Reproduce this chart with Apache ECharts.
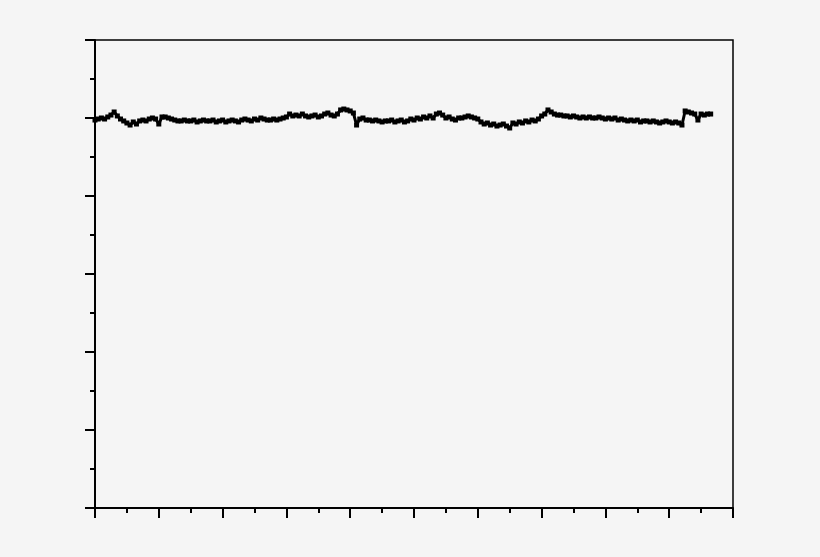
<!DOCTYPE html>
<html>
<head>
<meta charset="utf-8">
<script src="https://cdn.jsdelivr.net/npm/echarts@6/dist/echarts.min.js"></script>
<style>
html,body{margin:0;padding:0;background:#f5f5f5;}
#chart{width:820px;height:557px;}
</style>
</head>
<body>
<div id="chart"></div>
<script>
// sampling grid along x (data axis runs 0..100)
const xStart = 0;
const xStep = 0.5;
// measured series values (y axis runs 0..6)
const seriesValues = [
4.974,4.987,5.000,4.987,5.013,5.038,5.077,5.026,4.987,4.962,
4.936,4.910,4.949,4.923,4.962,4.974,4.962,4.987,5.000,4.987,
4.923,5.013,5.013,5.000,4.987,4.974,4.962,4.962,4.974,4.962,
4.962,4.974,4.949,4.962,4.974,4.962,4.962,4.974,4.949,4.962,
4.974,4.949,4.962,4.974,4.962,4.949,4.974,4.987,4.974,4.962,
4.987,4.974,5.000,4.987,4.974,4.974,4.987,4.974,4.987,5.000,
5.013,5.051,5.026,5.038,5.026,5.051,5.026,5.013,5.026,5.038,
5.013,5.026,5.051,5.064,5.038,5.026,5.051,5.103,5.115,5.103,
5.090,5.064,4.910,4.987,5.000,4.974,4.974,4.962,4.974,4.962,
4.949,4.962,4.962,4.974,4.949,4.962,4.974,4.949,4.962,4.987,
4.974,5.000,4.987,5.013,5.000,5.026,5.000,5.051,5.064,5.038,
5.000,5.013,4.987,4.974,5.000,5.000,5.013,5.026,5.013,5.000,
4.987,4.949,4.923,4.936,4.910,4.923,4.897,4.910,4.923,4.897,
4.872,4.936,4.923,4.949,4.936,4.962,4.949,4.974,4.962,4.987,
5.026,5.051,5.103,5.077,5.051,5.038,5.038,5.026,5.026,5.013,
5.026,5.013,5.000,5.013,5.000,5.013,5.000,5.000,5.013,5.000,
4.987,5.000,4.987,5.000,4.974,4.987,4.974,4.962,4.974,4.962,
4.974,4.949,4.962,4.962,4.949,4.962,4.949,4.936,4.949,4.962,
4.949,4.936,4.949,4.936,4.910,5.090,5.077,5.064,5.051,4.974,
5.051,5.038,5.051,5.051
];
const xAxisRange = [0, 100];
const yAxisRange = [0, 6];

const data = seriesValues.map((v, i) => [xStart + i * xStep, v]);

const chart = echarts.init(document.getElementById('chart'));
const axisCommon = {
  axisLine: { show: true, onZero: false, lineStyle: { color: '#000', width: 2 } },
  axisTick: { show: true, inside: false, length: 10, lineStyle: { color: '#000', width: 2 } },
  minorTick: { show: true, splitNumber: 2, length: 5, lineStyle: { color: '#000', width: 2 } },
  axisLabel: { show: false },
  splitLine: { show: false }
};
chart.setOption({
  backgroundColor: '#f5f5f5',
  animation: false,
  grid: {
    left: 95, right: 87, top: 40, bottom: 49,
    show: true, borderColor: '#000', borderWidth: 1.5, backgroundColor: 'transparent'
  },
  xAxis: Object.assign({
    type: 'value', min: xAxisRange[0], max: xAxisRange[1], interval: 10
  }, axisCommon),
  yAxis: Object.assign({
    type: 'value', min: yAxisRange[0], max: yAxisRange[1], interval: 1
  }, axisCommon),
  series: [{
    type: 'line',
    data: data,
    symbol: 'rect',
    symbolSize: 5,
    showSymbol: true,
    lineStyle: { color: '#000', width: 3 },
    itemStyle: { color: '#000' }
  }]
});
</script>
</body>
</html>
